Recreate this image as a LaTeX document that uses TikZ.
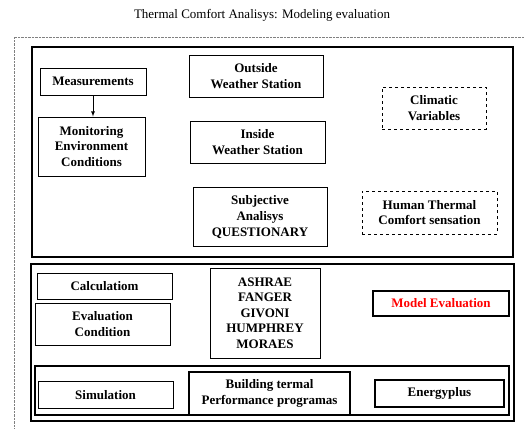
\documentclass[tikz,border=0pt]{standalone}
\usepackage{fontspec}
\setmainfont{LiberationSerif}[Extension=.ttf,UprightFont=*-Regular,BoldFont=*-Bold,ItalicFont=*-Italic,BoldItalicFont=*-BoldItalic]
\usetikzlibrary{arrows,positioning}

\tikzset{
  box/.style={draw,line width=0.9pt,align=center,inner sep=0pt,font=\bfseries\fontsize{13}{15.6}\selectfont},
  dbox/.style={box,dashed,line width=0.8pt},
  tbox/.style={box,line width=2pt},
  frame/.style={line width=#1}
}

\begin{document}
\begin{tikzpicture}[x=1pt,y=-1pt]
\useasboundingbox (0,0) rectangle (524,428);
\node[font=\fontsize{13}{15.6}\selectfont] (T) at (262,15) {Thermal Comfort Analisys: Modeling evaluation};
\draw[densely dotted,gray] (14,428) -- (14,37) -- (524,37);

% upper block
\draw[frame=2.5pt] (32,47) rectangle (513,257);
\node[box,minimum width=106,minimum height=27] (M) at (93,81.5) {Measurements};
\node[box,minimum width=107,minimum height=59] (MEC) at (91.5,146.5) {Monitoring\\Environment\\Conditions};
\node[box,minimum width=134,minimum height=42] (OWS) at (256,76) {Outside\\Weather Station};
\node[box,minimum width=135,minimum height=42] (IWS) at (257.5,142) {Inside\\Weather Station};
\node[box,minimum width=134,minimum height=59] (SAQ) at (260,217) {Subjective\\Analisys\\QUESTIONARY};
\node[dbox,minimum width=104,minimum height=42] (CV) at (434,108) {Climatic\\Variables};
\node[dbox,minimum width=135,minimum height=43] (HTC) at (429.5,212.5) {Human Thermal\\Comfort sensation};
\draw[-latex,line width=0.8pt] (M.south) -- (M.south |- MEC.north);

% lower block
\draw[frame=2pt] (31,264) rectangle (514,421);
\node[box,minimum width=135,minimum height=26] (C) at (104.5,286) {Calculatiom};
\node[box,minimum width=135,minimum height=42] (EC) at (102.5,324) {Evaluation\\Condition};
\node[box,minimum width=110,minimum height=90] (AF) at (265,313) {ASHRAE\\FANGER\\GIVONI\\HUMPHREY\\MORAES};
\node[tbox,minimum width=136,minimum height=25,text=red] (ME) at (441,303.5) {Model Evaluation};

% simulation row
\draw[frame=2pt] (35,366) rectangle (509,415);
\node[box,minimum width=135,minimum height=27] (S) at (105.5,395) {Simulation};
\node[tbox,minimum width=161,minimum height=43] (BTP) at (269.5,393.5) {Building termal\\Performance programas};
\node[tbox,minimum width=129,minimum height=27] (EP) at (439.5,393.5) {Energyplus};
\end{tikzpicture}
\end{document}
